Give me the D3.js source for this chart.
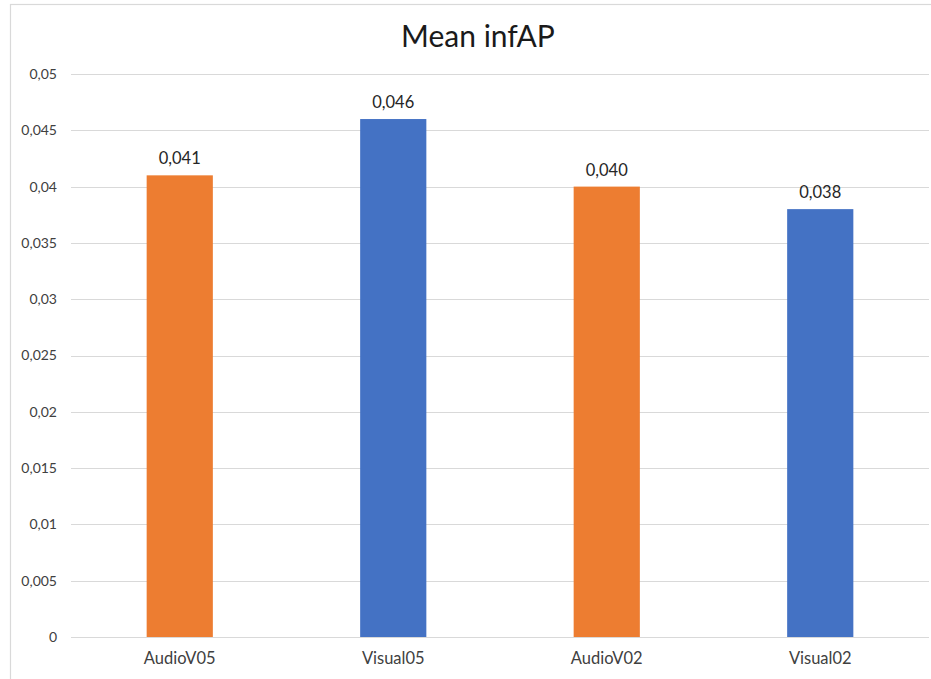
<!DOCTYPE html>
<html>
<head>
<meta charset="utf-8">
<script src="https://cdn.jsdelivr.net/npm/d3@7"></script>
<style>
  html, body { margin: 0; padding: 0; background: #fff; }
  svg { display: block; font-family: Lato, "Open Sans", sans-serif; }
</style>
</head>
<body>
<svg id="chart" width="931" height="679"></svg>
<script>
// Mean infAP per run
const categories = ["AudioV05", "Visual05", "AudioV02", "Visual02"];
const values = [0.041, 0.046, 0.040, 0.038];
const valueLabels = ["0,041", "0,046", "0,040", "0,038"];
const barColors = ["#ED7D31", "#4472C4", "#ED7D31", "#4472C4"];
const yTicks = [0, 0.005, 0.01, 0.015, 0.02, 0.025, 0.03, 0.035, 0.04, 0.045, 0.05];
const yTickLabels = ["0", "0,005", "0,01", "0,015", "0,02", "0,025", "0,03", "0,035", "0,04", "0,045", "0,05"];
const title = "Mean infAP";

const svg = d3.select("#chart");
const margin = { left: 73, right: 4, top: 74, bottom: 42 };
const W = 931, H = 679;

// chart frame (runs off the right and bottom edges)
svg.append("rect")
  .attr("x", 10.5).attr("y", 4.5)
  .attr("width", 940).attr("height", 690)
  .attr("fill", "#fff").attr("stroke", "#d9d9d9").attr("stroke-width", 1.2);

const x = d3.scaleBand()
  .domain(categories)
  .range([margin.left, W - margin.right])
  .paddingInner(0.69).paddingOuter(0.345);

const y = d3.scaleLinear()
  .domain([0, 0.05])
  .range([H - margin.bottom, margin.top]);

// gridlines
svg.append("g")
  .selectAll("line")
  .data(yTicks)
  .join("line")
  .attr("x1", margin.left - 2).attr("x2", W - 2)
  .attr("y1", d => Math.round(y(d)) + 0.5).attr("y2", d => Math.round(y(d)) + 0.5)
  .attr("stroke", "#d9d9d9").attr("stroke-width", 1);

// y axis labels
const yAxis = d3.axisLeft(y)
  .tickValues(yTicks)
  .tickFormat((d, i) => yTickLabels[i])
  .tickSize(0).tickPadding(16);
const gy = svg.append("g")
  .attr("transform", `translate(${margin.left},0)`)
  .call(yAxis);
gy.select(".domain").remove();
gy.selectAll("text")
  .attr("font-size", 14).attr("fill", "#404040")
  .attr("font-family", "Lato, sans-serif");

// bars
svg.append("g")
  .selectAll("rect")
  .data(categories)
  .join("rect")
  .attr("x", d => x(d))
  .attr("width", x.bandwidth())
  .attr("y", (d, i) => y(values[i]))
  .attr("height", (d, i) => y(0) - y(values[i]))
  .attr("fill", (d, i) => barColors[i]);

// value labels
svg.append("g")
  .selectAll("text")
  .data(categories)
  .join("text")
  .attr("x", d => x(d) + x.bandwidth() / 2)
  .attr("y", (d, i) => y(values[i]) - 11)
  .attr("text-anchor", "middle")
  .attr("font-size", 16.5).attr("fill", "#262626")
  .text((d, i) => valueLabels[i]);

// x axis labels
const xAxis = d3.axisBottom(x).tickSize(0).tickPadding(15);
const gx = svg.append("g")
  .attr("transform", `translate(0,${y(0)})`)
  .call(xAxis);
gx.select(".domain").remove();
gx.selectAll("text")
  .attr("font-size", 16.5).attr("fill", "#404040")
  .attr("font-family", "Lato, sans-serif");

// title
svg.append("text")
  .attr("x", 478).attr("y", 47)
  .attr("text-anchor", "middle")
  .attr("font-size", 30).attr("fill", "#1a1a1a")
  .text(title);
</script>
</body>
</html>
